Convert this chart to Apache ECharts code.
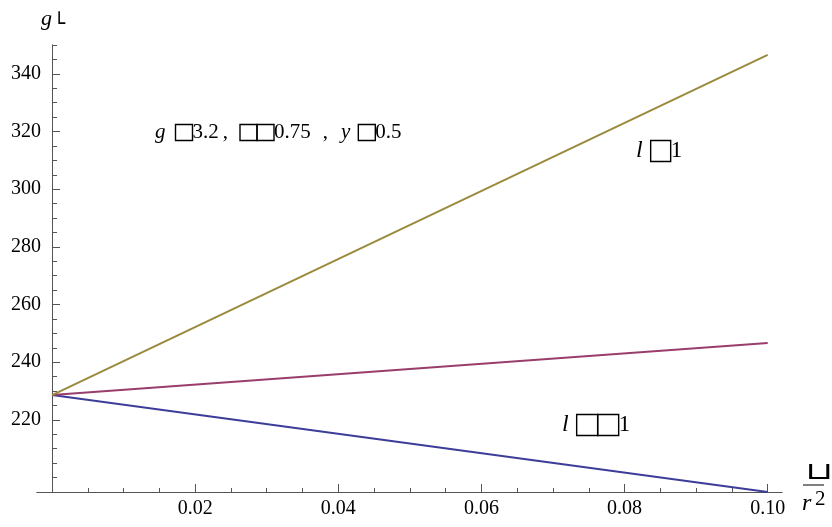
<!DOCTYPE html>
<html><head><meta charset="utf-8">
<script src="https://cdn.jsdelivr.net/npm/echarts@6/dist/echarts.min.js"></script>
<style>html,body{margin:0;padding:0;background:#fff}#c{width:832px;height:527px}</style>
</head><body><div id="c"></div>
<script>
// x positions (the quantity on the horizontal axis)
const xValues = [0, 0.1];
// series values at those x positions
const seriesBlue   = [228.6, 195.0];   // l -> -1
const seriesPurple = [228.6, 246.7];
const seriesOlive  = [228.6, 346.6];   // l -> 1
// tick labels / tick positions
const xMajorTicks = [0.02, 0.04, 0.06, 0.08, 0.10];
const xMinorTicks = [0.005,0.01,0.015,0.025,0.03,0.035,0.045,0.05,0.055,0.065,0.07,0.075,0.085,0.09,0.095,0.1];
const yMajorTicks = [220, 240, 260, 280, 300, 320, 340];
const yMinorTicks = [200,205,210,215,225,230,235,245,250,255,265,270,275,285,290,295,305,310,315,325,330,335,345,350];

const serif = 'Liberation Serif';
const axisColor = '#555';
function pairs(vals){ return xValues.map((x,i)=>[x, vals[i]]); }

const chart = echarts.init(document.getElementById('c'), null, {renderer:'canvas'});
const commonX = {type:'value', min:-0.0021, max:0.102, splitLine:{show:false}, position:'bottom',
  axisLine:{lineStyle:{color:axisColor,width:1}}};
const commonY = {type:'value', min:195, max:350, splitLine:{show:false}, position:'left',
  axisLine:{onZero:true, lineStyle:{color:axisColor,width:1}}};
const tsty = {fontFamily:serif, fontSize:21, fill:'#000', lineHeight:24, verticalAlign:'middle'};
const ital = {fontStyle:'italic', fontFamily:serif, fontSize:21, fill:'#000', lineHeight:24, verticalAlign:'middle'};
const box = {fontFamily:'DejaVu Sans', fontSize:12, fill:'rgba(0,0,0,0)', width:17, height:16,
  borderColor:'#000', borderWidth:1.4, align:'center', verticalAlign:'middle'};
const sp = w => ({width:w, fontSize:10, fill:'rgba(0,0,0,0)', verticalAlign:'middle'});
const tstyL = Object.assign({}, tsty, {fontSize:23, lineHeight:26});
const italL = Object.assign({}, ital, {fontSize:24, lineHeight:26});
const boxL = Object.assign({}, box, {width:20, height:21});
const richS = {i:ital, t:tsty, b:box, s4:sp(4), s8:sp(8), s10:sp(10), s12:sp(12), s13:sp(13)};
const richL = {i:italL, t:tstyL, b:boxL, s8:sp(8), s6:sp(6)};
chart.setOption({
  animation:false,
  grid:{left:37, right:50, top:45, bottom:35, containLabel:false, outerBoundsMode:'none'},
  xAxis:[
    Object.assign({}, commonX, {
      axisTick:{inside:true, length:8, customValues:xMajorTicks, lineStyle:{color:axisColor}},
      axisLabel:{customValues:xMajorTicks, margin:7, color:'#000', fontFamily:serif, fontSize:20,
        formatter:v=>v.toFixed(2)}
    }),
    Object.assign({}, commonX, {
      axisTick:{inside:true, length:4, customValues:xMinorTicks, lineStyle:{color:axisColor}},
      axisLabel:{show:false}
    })
  ],
  yAxis:[
    Object.assign({}, commonY, {
      axisTick:{inside:true, length:8, customValues:yMajorTicks, lineStyle:{color:axisColor}},
      axisLabel:{customValues:yMajorTicks, margin:-4, color:'#000', fontFamily:serif, fontSize:20}
    }),
    Object.assign({}, commonY, {
      axisTick:{inside:true, length:5, customValues:yMinorTicks, lineStyle:{color:axisColor}},
      axisLabel:{show:false}
    })
  ],
  series:[
    {type:'line', data:pairs(seriesBlue), showSymbol:false, lineStyle:{color:'#3d3d99', width:2}},
    {type:'line', data:pairs(seriesPurple), showSymbol:false, lineStyle:{color:'#993d6b', width:2}},
    {type:'line', data:pairs(seriesOlive), showSymbol:false, lineStyle:{color:'#998a3d', width:2}}
  ],
  graphic:[
    {type:'text', left:155, top:122, style:{
      text:'{i|g}{s10| }{b|□}{t|3.2}{s4| }{t|,}{s12| }{b|□}{b|□}{t|0.75}{s12| }{t|,}{s13| }{i|y}{s8| }{b|□}{t|0.5}',
      fontFamily:serif, fontSize:20, fill:'#000', rich:richS}},
    {type:'text', left:636, top:139, style:{
      text:'{i|l}{s8| }{b|□}{t|1}', fontFamily:serif, fontSize:20, fill:'#000', rich:richL}},
    {type:'text', left:562, top:413, style:{
      text:'{i|l}{s8| }{b|□}{b|□}{t|1}', fontFamily:serif, fontSize:20, fill:'#000',
      rich:Object.assign({}, richL, {b:Object.assign({}, boxL, {width:21})})}},
    {type:'text', left:41, top:8, style:{text:'g', fontFamily:serif, fontStyle:'italic', fontSize:22, fill:'#000'}},
    {type:'text', left:53, top:15, style:{text:'└', fontFamily:'DejaVu Sans', fontSize:20, fill:'#000'}},
    {type:'text', left:805, top:461, scaleX:1.5, style:{text:'⊔', fontFamily:'DejaVu Sans', fontSize:24, fill:'#000'}},
    {type:'line', shape:{x1:803, y1:485, x2:824, y2:485}, style:{stroke:'#000', lineWidth:1}},
    {type:'text', left:802, top:492, style:{text:'r', fontFamily:serif, fontStyle:'italic', fontSize:24, fill:'#000'}},
    {type:'text', left:815, top:489, style:{text:'2', fontFamily:serif, fontSize:21, fill:'#000'}}
  ]
});
</script></body></html>
